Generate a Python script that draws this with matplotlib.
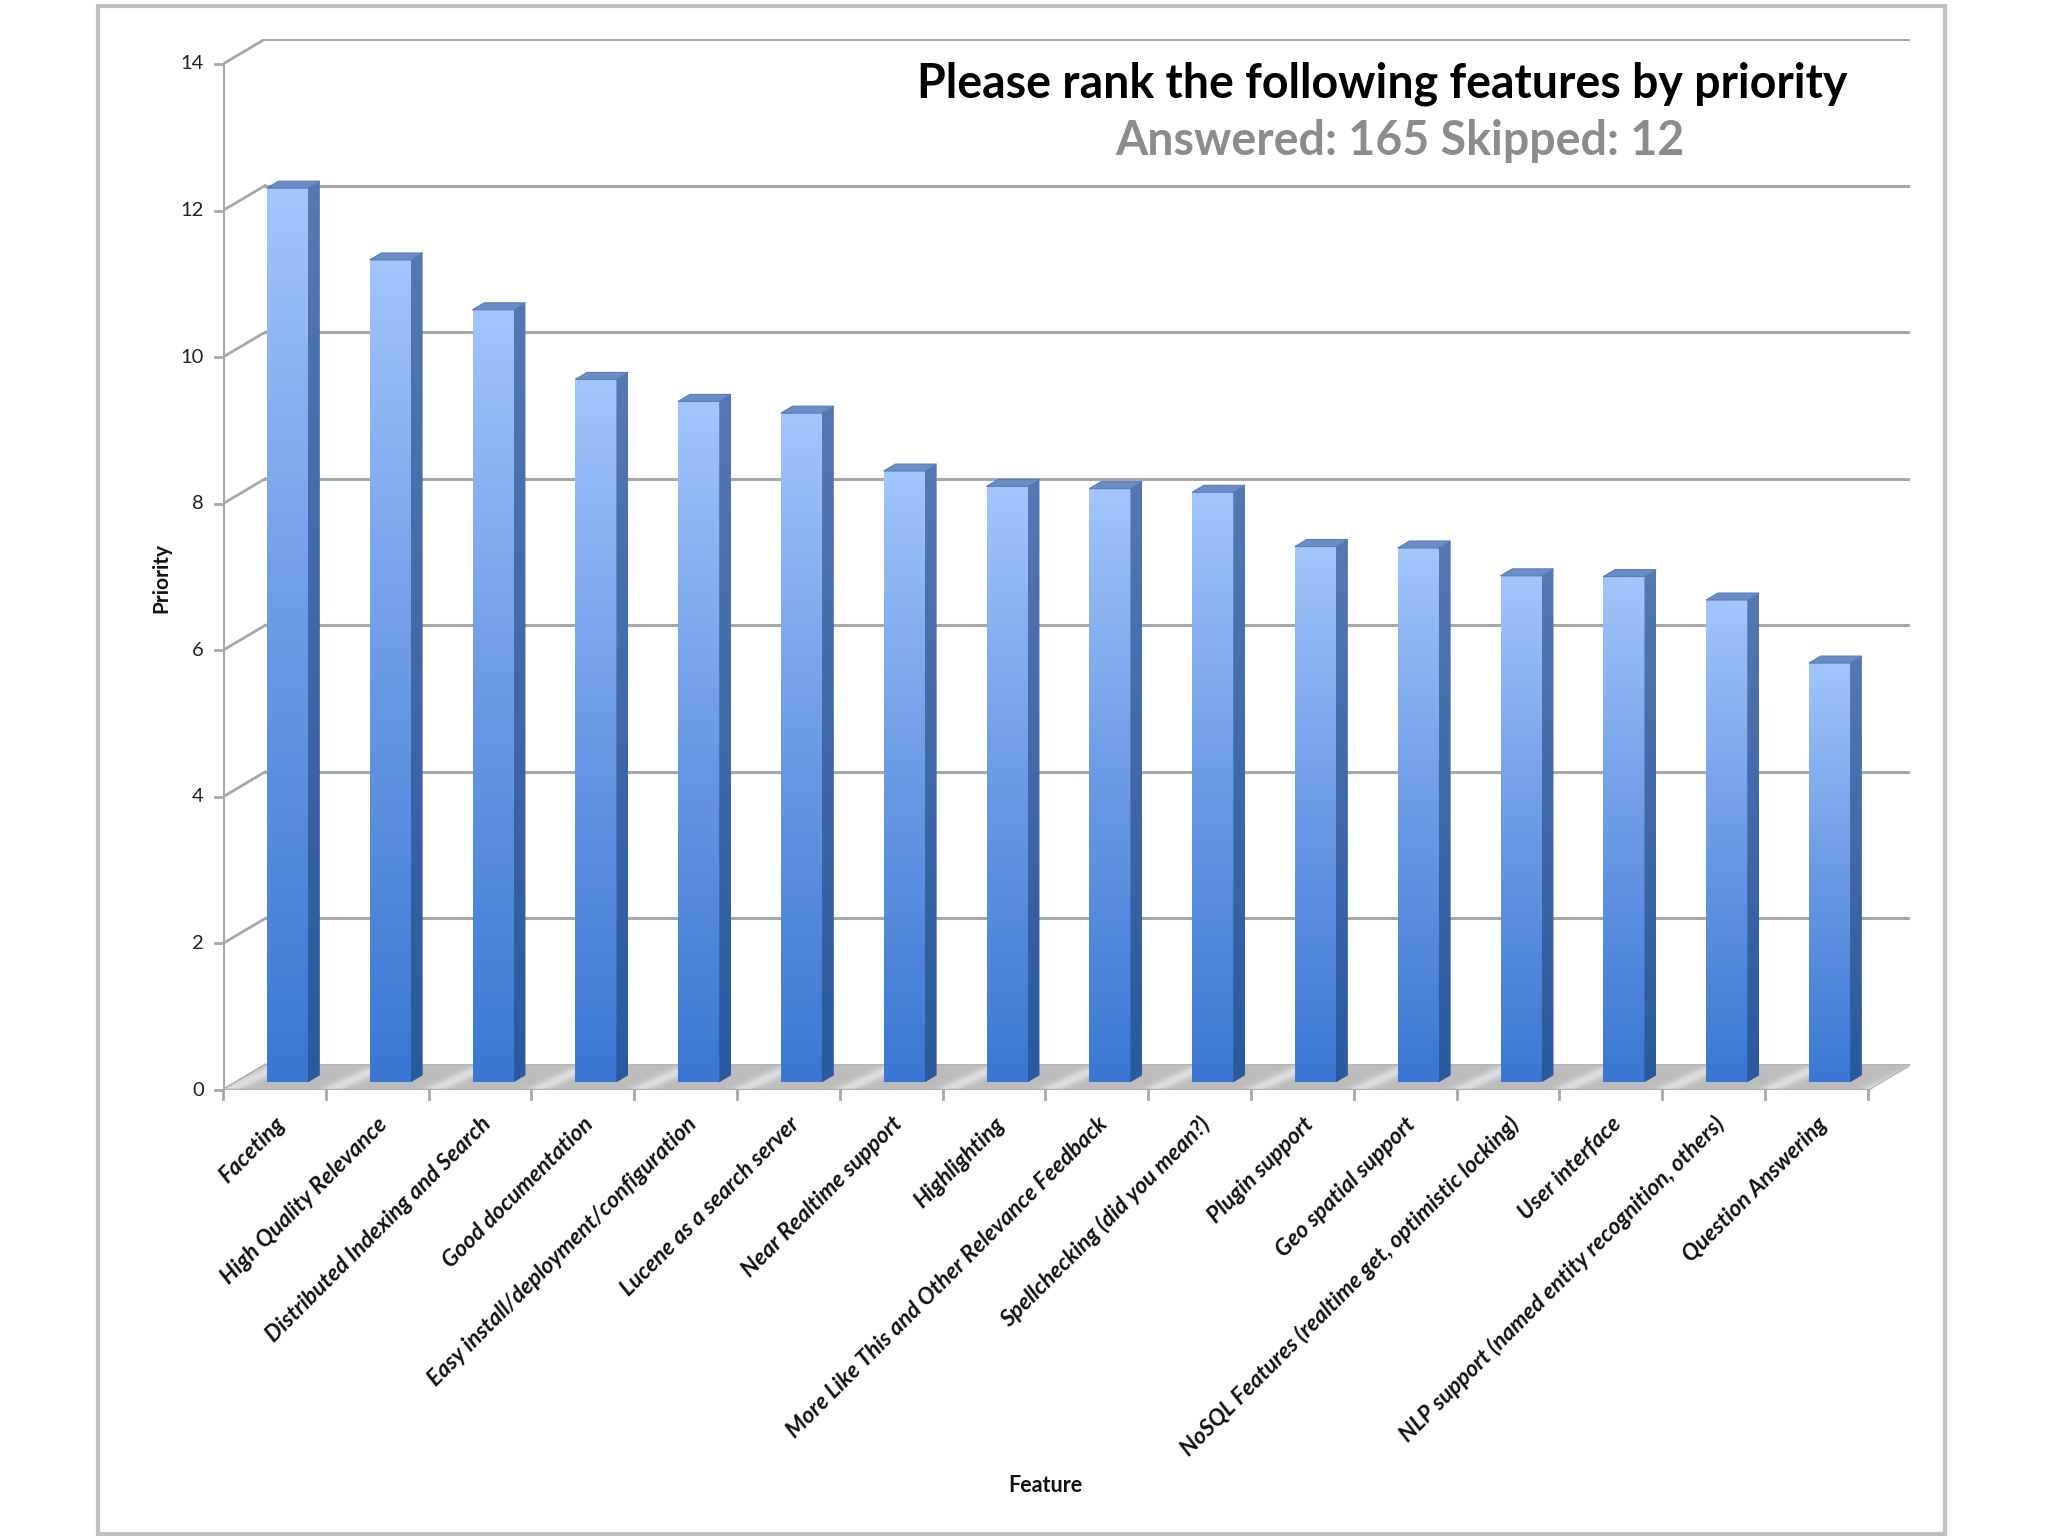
import numpy as np
import matplotlib.pyplot as plt
from matplotlib.patches import Polygon, Rectangle
from matplotlib.colors import LinearSegmentedColormap

features = [
    "Faceting",
    "High Quality Relevance",
    "Distributed Indexing and Search",
    "Good documentation",
    "Easy install/deployment/configuration",
    "Lucene as a search server",
    "Near Realtime support",
    "Highlighting",
    "More Like This and Other Relevance Feedback",
    "Spellchecking (did you mean?)",
    "Plugin support",
    "Geo spatial support",
    "NoSQL Features (realtime get, optimistic locking)",
    "User interface",
    "NLP support (named entity recognition, others)",
    "Question Answering",
]
priority = [12.2, 11.22, 10.54, 9.59, 9.29, 9.13, 8.34, 8.13,
            8.1, 8.05, 7.31, 7.29, 6.91, 6.9, 6.58, 5.72]
y_ticks = [0, 2, 4, 6, 8, 10, 12, 14]

title = "Please rank the following features by priority"
subtitle = "Answered: 165 Skipped: 12"

# fake 3d: offset of the back wall, in data units
DX, DY = 0.41, 0.34
F1, DEPTH = 0.31, 0.28   # bar front depth and bar depth (fraction of floor depth)
BAR_W = 0.40
n = len(features)

plt.rcParams['font.family'] = ['Lato', 'DejaVu Sans']

fig = plt.figure(figsize=(20.48, 15.36), dpi=100)
ax = fig.add_axes([223 / 2048, 446 / 1536, (1910 - 223) / 2048, (1497 - 446) / 1536])

grid_c = '#a8a8a8'
x_left, x_right = -0.5, n - 0.5

# back wall gridlines and left wall diagonals
for v in y_ticks:
    if v > 0:
        ax.plot([x_left + DX, x_right + DX], [v + DY, v + DY], color=grid_c, lw=2.2, zorder=1)
    ax.plot([x_left, x_left + DX], [v, v + DY], color=grid_c, lw=2.0, zorder=1)
    ax.plot([x_left - 0.08, x_left], [v, v], color=grid_c, lw=2.0, zorder=1, clip_on=False)
    ax.text(x_left - 0.185, v, str(v), ha='right', va='center', fontsize=14.5, color='#222222')

ax.plot([x_left, x_left], [0, y_ticks[-1]], color=grid_c, lw=2.2, zorder=1)

# floor, with soft diagonal streaks in the gaps between bars
floor = Polygon([(x_left, 0), (x_right, 0), (x_right + DX, DY), (x_left + DX, DY)],
                closed=True, fc='#c4c4c4', ec='#b0b0b0', lw=1.5, zorder=2)
ax.add_patch(floor)
floor_cmap = LinearSegmentedColormap.from_list('floor', ['#bcbcbc', '#c6c6c6', '#dedede'])
xs = np.linspace(x_left, x_right + DX, 800)
ts = np.linspace(0, 1, 20).reshape(-1, 1)
streak = np.clip(np.cos(2 * np.pi * (xs - 0.55 - 0.5 * ts)), 0, 1) ** 2
im = ax.imshow(streak, cmap=floor_cmap, origin='lower', extent=[x_left, x_right + DX, 0, DY],
               aspect='auto', zorder=2)
im.set_clip_path(floor)
ax.plot([x_left, x_right], [0, 0], color='#b0b0b0', lw=2.5, zorder=2)
for k in range(n + 1):
    ax.plot([x_left + k, x_left + k], [0, -0.12], color=grid_c, lw=2.0, clip_on=False, zorder=2)

front_cmap = LinearSegmentedColormap.from_list('front', ['#3a77d2', '#6b9ae6', '#a2c5fb'])
side_cmap = LinearSegmentedColormap.from_list('side', ['#2a599e', '#5478b2'])
grad = np.linspace(0, 1, 256).reshape(-1, 1)

for i, v in enumerate(priority):
    x0 = i - BAR_W / 2 + F1 * DX
    x1 = x0 + BAR_W
    y0 = F1 * DY
    y1 = v + y0
    sx, sy = DEPTH * DX, DEPTH * DY

    ax.imshow(grad, cmap=front_cmap, origin='lower', extent=[x0, x1, y0, y1],
              aspect='auto', zorder=4)

    side = Polygon([(x1, y0), (x1 + sx, y0 + sy), (x1 + sx, y1 + sy), (x1, y1)],
                   closed=True, fc='none', ec='none', transform=ax.transData)
    ax.add_patch(side)
    sim = ax.imshow(grad, cmap=side_cmap, origin='lower', extent=[x1, x1 + sx, y0, y1 + sy],
                    aspect='auto', zorder=4)
    sim.set_clip_path(side)

    top = Polygon([(x0, y1), (x1, y1), (x1 + sx, y1 + sy), (x0 + sx, y1 + sy)],
                  closed=True, fc='#6a8dc7', ec='#5a7db8', lw=0.8, zorder=5)
    ax.add_patch(top)

    ax.text(i + 0.07, -0.42, features[i], rotation=45, rotation_mode='anchor',
            ha='right', va='center', fontsize=16.4, style='italic', weight='bold',
            color='#111111')

ax.set_xlim(x_left, x_right + DX)
ax.set_ylim(0, y_ticks[-1] + DY)
ax.axis('off')

fig.text(1382 / 2048, 1 - 98 / 1536, title, ha='center', va='baseline',
         fontsize=33.5, weight='bold', color='#000000')
fig.text(1400 / 2048, 1 - 155 / 1536, subtitle, ha='center', va='baseline',
         fontsize=33.5, weight='bold', color='#8c8c8c')
fig.text(161 / 2048, 1 - 578 / 1536, 'Priority', rotation=90, ha='center', va='center',
         fontsize=15, weight='bold', color='#111111')
fig.text(1045 / 2048, 1 - 1485 / 1536, 'Feature', ha='center', va='center',
         fontsize=15.5, weight='bold', color='#111111')

fig.patches.append(Rectangle((98 / 2048, 2 / 1536), (1945 - 98) / 2048, (1532 - 4) / 1536,
                             transform=fig.transFigure, fill=False, ec='#c0c0c0', lw=3))

fig.savefig('out.png', dpi=100)
